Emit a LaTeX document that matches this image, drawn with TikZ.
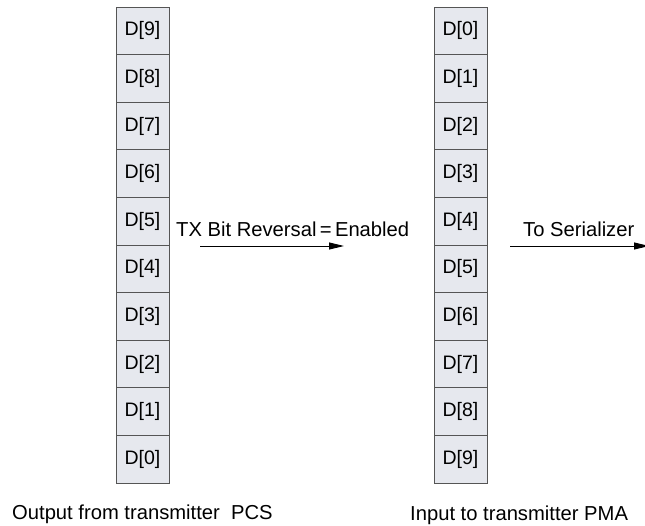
\documentclass[tikz,border=0pt]{standalone}
\usepackage{fontspec}
\setmainfont{Liberation Sans}
\usetikzlibrary{arrows.meta}
\definecolor{cellfill}{RGB}{230,232,238}
\definecolor{cellline}{RGB}{85,85,85}
\tikzset{
  cell/.style={draw=cellline, line width=1pt, fill=cellfill, minimum width=53pt, minimum height=47.6pt, inner sep=0pt, outer sep=0pt, anchor=north west, font=\fontsize{19.5}{22}\selectfont},
  lbl/.style={font=\fontsize{20.2}{23}\selectfont, inner sep=0pt, anchor=base west},
  flow/.style={line width=1pt, -{Triangle[length=15pt,width=7pt]}}
}
\begin{document}
\begin{tikzpicture}[x=1pt,y=-1pt]
\useasboundingbox (0,0) rectangle (645,525);
\foreach \i in {0,...,9}{
  \pgfmathtruncatemacro{\lab}{9-\i}
  \node[cell] (L\lab) at (116,{7+47.6*\i}) {D[\lab]};
  \node[cell] (R\i) at (434,{7+47.6*\i}) {D[\i]};
}
\coordinate (a1s) at (200,246);
\coordinate (a1e) at (344,246);
\coordinate (a2s) at (510,246);
\coordinate (a2e) at (649,246);
\draw[flow] (a1s) -- (a1e);
\draw[flow] (a2s) -- (a2e);
\node[lbl] (t1) at (176,236) {TX Bit Reversal\,=\,Enabled};
\node[lbl] (t2) at (523,236) {To Serializer};
\node[lbl] (b1) at (12,519) {Output from transmitter\ \ PCS};
\node[lbl] (b2) at (410,520) {Input to transmitter PMA};
\end{tikzpicture}
\end{document}
